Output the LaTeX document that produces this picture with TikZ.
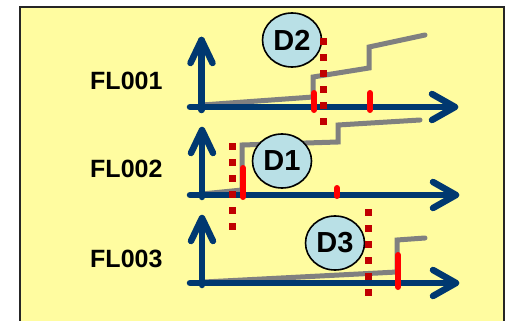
\documentclass[tikz,border=0pt]{standalone}
\usepackage{fontspec}
\setmainfont{Liberation Sans}
\definecolor{bgyellow}{RGB}{255,252,160}
\definecolor{axisblue}{RGB}{0,56,112}
\definecolor{stepgray}{RGB}{128,128,128}
\definecolor{markred}{RGB}{255,0,0}
\definecolor{dotred}{RGB}{192,0,0}
\definecolor{dblue}{RGB}{185,224,230}
\tikzset{
  axisline/.style={draw=axisblue, line width=6.5pt, line cap=round, line join=round},
  grayline/.style={draw=stepgray, line width=5pt, line cap=round},
  redmark/.style={draw=markred, line width=6pt, line cap=round},
  dotline/.style={draw=dotred, line width=7pt, dash pattern=on 7pt off 9pt},
  flabel/.style={font=\bfseries\fontsize{25}{30}\selectfont, anchor=west, inner sep=0pt},
  dnode/.style={ellipse, draw=black, line width=1.6pt, fill=dblue, minimum width=59pt, minimum height=54pt, inner sep=0pt, font=\bfseries\fontsize{29}{34}\selectfont}
}
\usetikzlibrary{shapes.geometric}
\begin{document}
\begin{tikzpicture}[x=1pt,y=-1pt]
\useasboundingbox (0,0) rectangle (506,321);
\clip (0,0) rectangle (506,321);
\fill[bgyellow] (20,7) rectangle (504,340);
\draw[black!85, line width=1.8pt] (20,340) -- (20,7) -- (504,7) -- (504,340);

% axis coordinates
\coordinate (h1s) at (190,107); \coordinate (h1e) at (455,107);
\coordinate (v1s) at (201.5,110); \coordinate (v1e) at (201.5,40);
\coordinate (h2s) at (190,195); \coordinate (h2e) at (456,195);
\coordinate (v2s) at (202,197); \coordinate (v2e) at (202,130);
\coordinate (h3s) at (190,283); \coordinate (h3e) at (456,283);
\coordinate (v3s) at (202,285); \coordinate (v3e) at (202,218);

% gray step lines
\draw[grayline] (202,105) -- (313,97) -- (313,77) -- (369,68) -- (369,47) -- (425,35);
\draw[grayline] (202,194) -- (242,190) -- (242,145) -- (338,142) -- (338,125) -- (420,120);
\draw[grayline] (204,282) -- (397,272) -- (397,240) -- (425,238);

% axes
\foreach \i in {1,2,3}{
  \draw[axisline] (h\i s) -- (h\i e);
  \draw[axisline] (h\i e) ++(-23,-13) -- (h\i e) -- ++(-23,13);
  \draw[axisline] (v\i s) -- (v\i e);
  \draw[axisline] (v\i e) ++(-11,23) -- (v\i e) -- ++(11,23);
}

% red marks
\draw[redmark] (314,93) -- (314,110);
\draw[redmark] (370,93) -- (370,110);
\draw[redmark] (243,168) -- (243,197);
\draw[redmark] (337,188) -- (337,196);
\draw[redmark] (398,255) -- (398,287);

% labels
\node[flabel] (fl1) at (90,81) {FL001};
\node[flabel] (fl2) at (90,169) {FL002};
\node[flabel] (fl3) at (90,259) {FL003};

% D circles
\node[dnode] (d2) at (292,40) {D2};
\node[dnode] (d1) at (282,161) {D1};
\node[dnode] (d3) at (335,243) {D3};

% dotted lines
\draw[dotline] (323,38) -- (323,126);
\draw[dotline] (232,143) -- (232,231);
\draw[dotline] (368,209) -- (368,297);
\end{tikzpicture}
\end{document}
